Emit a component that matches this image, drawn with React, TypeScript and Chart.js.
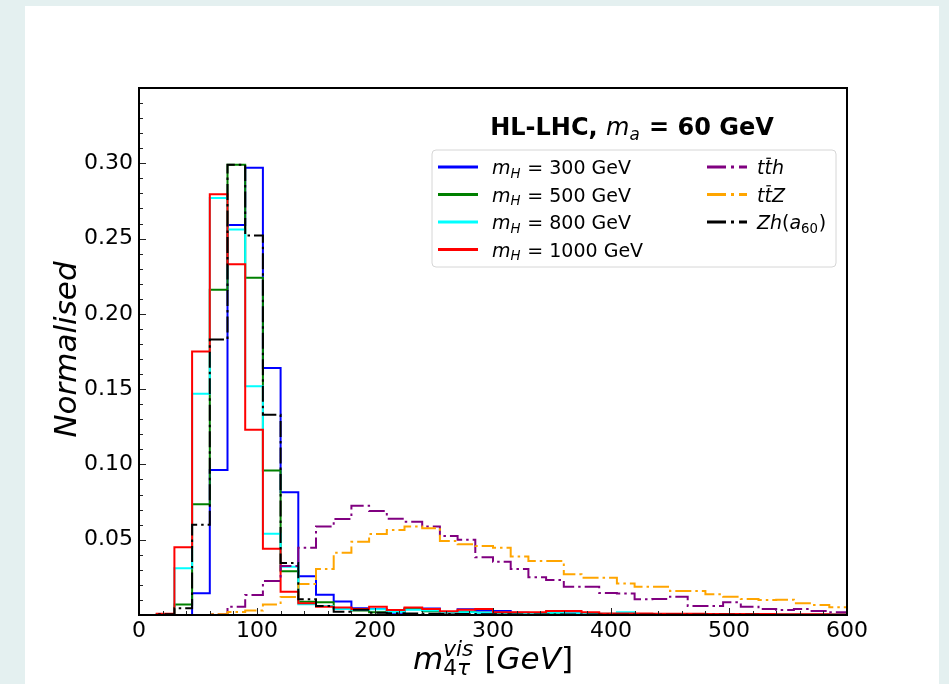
import React, { useEffect, useRef } from 'react';
import { Chart, registerables } from 'chart.js';

Chart.register(...registerables);

// 40 bins of 15 GeV in the visible 4-tau mass
const binEdges = [
  0, 15, 30, 45, 60, 75, 90, 105, 120, 135, 150, 165, 180, 195, 210, 225, 240, 255, 270, 285,
  300, 315, 330, 345, 360, 375, 390, 405, 420, 435, 450, 465, 480, 495, 510, 525, 540, 555, 570,
  585, 600,
];

// Normalised bin contents, signal samples (m_a = 60 GeV)
const mH300 = [
  0, 0, 0, 0.0144, 0.0963, 0.259, 0.297, 0.164, 0.0815, 0.0257,
  0.0135, 0.009, 0.0045, 0.004, 0.0015, 0.0043, 0.0043, 0.0017, 0.0038, 0.003,
  0.0027, 0.0015, 0.0012, 0.0012, 0.001, 0.0008, 0.0007, 0.0006, 0.0005, 0.0005,
  0.0004, 0.0004, 0.0003, 0.0003, 0.0003, 0.0002, 0.0002, 0.0002, 0.0001, 0.0001,
];
const mH500 = [
  0, 0.0003, 0.007, 0.0735, 0.216, 0.299, 0.224, 0.096, 0.029, 0.0088,
  0.0085, 0.0045, 0.003, 0.0018, 0.002, 0.0042, 0.0025, 0.0016, 0.002, 0.0015,
  0.0012, 0.001, 0.001, 0.0009, 0.0008, 0.0007, 0.0006, 0.0006, 0.0005, 0.0005,
  0.0004, 0.0004, 0.0003, 0.0003, 0.0003, 0.0002, 0.0002, 0.0002, 0.0001, 0.0001,
];
const mH800 = [
  0, 0.0005, 0.031, 0.147, 0.277, 0.256, 0.152, 0.054, 0.032, 0.0071,
  0.006, 0.004, 0.0035, 0.0038, 0.002, 0.0035, 0.003, 0.002, 0.0018, 0.0015,
  0.0015, 0.0012, 0.001, 0.0015, 0.001, 0.0008, 0.0008, 0.0018, 0.0007, 0.0006,
  0.0005, 0.0005, 0.0004, 0.0004, 0.0003, 0.0003, 0.0003, 0.0002, 0.0002, 0.0002,
];
const mH1000 = [
  0, 0.0008, 0.045, 0.175, 0.2795, 0.233, 0.123, 0.044, 0.0155, 0.0078,
  0.0055, 0.0049, 0.004, 0.0055, 0.0033, 0.0049, 0.004, 0.0025, 0.0035, 0.004,
  0.0018, 0.0018, 0.0018, 0.0027, 0.0027, 0.0018, 0.001, 0.001, 0.001, 0.0009,
  0.0008, 0.0008, 0.0007, 0.0007, 0.0006, 0.0006, 0.0005, 0.0005, 0.0005, 0.0004,
];

// Normalised bin contents, backgrounds
const ttbarH = [
  0, 0, 0, 0, 0.0005, 0.0055, 0.0133, 0.0226, 0.0326, 0.0447,
  0.0587, 0.0638, 0.0726, 0.069, 0.064, 0.062, 0.0587, 0.0525, 0.05, 0.0383,
  0.0354, 0.0306, 0.025, 0.0233, 0.0188, 0.0188, 0.0146, 0.0142, 0.0104, 0.0106,
  0.0122, 0.006, 0.006, 0.0084, 0.0055, 0.004, 0.0033, 0.004, 0.0027, 0.0018,
];
const ttbarZ = [
  0, 0, 0, 0, 0.0005, 0.002, 0.003, 0.007, 0.012, 0.0206,
  0.0306, 0.0414, 0.0487, 0.0538, 0.0565, 0.0587, 0.0576, 0.0492, 0.047, 0.0458,
  0.0447, 0.0388, 0.0359, 0.0359, 0.027, 0.0248, 0.0248, 0.021, 0.0188, 0.0188,
  0.016, 0.016, 0.0137, 0.0122, 0.0106, 0.01, 0.0102, 0.0078, 0.0066, 0.0051,
];
const zhA60 = [
  0, 0.0005, 0.0045, 0.06, 0.183, 0.299, 0.252, 0.133, 0.0345, 0.0104,
  0.006, 0.0022, 0.0035, 0.0015, 0.0012, 0.001, 0.0008, 0.0007, 0.0006, 0.0005,
  0.0005, 0.0004, 0.0004, 0.0003, 0.0003, 0.0003, 0.0002, 0.0002, 0.0002, 0.0002,
  0.0001, 0.0001, 0.0001, 0.0001, 0.0001, 0, 0, 0, 0, 0,
];

// Axis ticks
const xTickValues = [0, 100, 200, 300, 400, 500, 600];
const yTickValues = [0.05, 0.1, 0.15, 0.2, 0.25, 0.3];
const yTickLabels = ['0.05', '0.10', '0.15', '0.20', '0.25', '0.30'];

const FAMILY = '"DejaVu Sans", "Liberation Sans", sans-serif';
const DASH_DOT = [16, 4, 2.5, 4];

type Run = { t: string; it?: boolean; b?: boolean; bar?: boolean };
type Script = { sub?: Run[]; sup?: Run[] };
type Piece = Run | Script;

const massLabel = (mass: string): Piece[] => [
  { t: 'm', it: true },
  { sub: [{ t: 'H', it: true }] },
  { t: ` = ${mass} GeV` },
];

const series = [
  { name: 'mH300', values: mH300, color: '#0000ff', dashed: false, legend: massLabel('300') },
  { name: 'mH500', values: mH500, color: '#008000', dashed: false, legend: massLabel('500') },
  { name: 'mH800', values: mH800, color: '#00ffff', dashed: false, legend: massLabel('800') },
  { name: 'mH1000', values: mH1000, color: '#ff0000', dashed: false, legend: massLabel('1000') },
  {
    name: 'ttbarH', values: ttbarH, color: '#800080', dashed: true,
    legend: [{ t: 't', it: true }, { t: 't', it: true, bar: true }, { t: 'h', it: true }] as Piece[],
  },
  {
    name: 'ttbarZ', values: ttbarZ, color: '#ffa500', dashed: true,
    legend: [{ t: 't', it: true }, { t: 't', it: true, bar: true }, { t: 'Z', it: true }] as Piece[],
  },
  {
    name: 'zhA60', values: zhA60, color: '#000000', dashed: true,
    legend: [{ t: 'Zh', it: true }, { t: '(' }, { t: 'a', it: true }, { sub: [{ t: '60' }] }, { t: ')' }] as Piece[],
  },
];

const titlePieces: Piece[] = [
  { t: 'HL-LHC, ', b: true },
  { t: 'm', it: true },
  { sub: [{ t: 'a', it: true }] },
  { t: ' = 60 GeV', b: true },
];
const xLabelPieces: Piece[] = [
  { t: 'm', it: true },
  { sub: [{ t: '4' }, { t: 'τ', it: true }], sup: [{ t: 'vis', it: true }] },
  { t: ' [' },
  { t: 'GeV', it: true },
  { t: ']' },
];
const yLabelPieces: Piece[] = [{ t: 'Normalised', it: true }];

const fontStr = (size: number, it?: boolean, b?: boolean) =>
  `${it ? 'italic ' : ''}${b ? 'bold ' : ''}${size}px ${FAMILY}`;

function runsWidth(ctx: CanvasRenderingContext2D, runs: Run[], size: number) {
  let w = 0;
  for (const r of runs) {
    ctx.font = fontStr(size, r.it, r.b);
    w += ctx.measureText(r.t).width;
  }
  return w;
}

function pieceWidth(ctx: CanvasRenderingContext2D, p: Piece, size: number) {
  if ('t' in p) return runsWidth(ctx, [p as Run], size);
  const s = size * 0.7;
  const sc = p as Script;
  return Math.max(sc.sub ? runsWidth(ctx, sc.sub, s) : 0, sc.sup ? runsWidth(ctx, sc.sup, s) : 0) + size * 0.04;
}

function drawRuns(ctx: CanvasRenderingContext2D, runs: Run[], x: number, y: number, size: number) {
  for (const r of runs) {
    ctx.font = fontStr(size, r.it, r.b);
    const w = ctx.measureText(r.t).width;
    ctx.fillText(r.t, x, y);
    if (r.bar) ctx.fillRect(x + w * 0.25, y - size * 0.86, w * 0.62, Math.max(1, size * 0.065));
    x += w;
  }
  return x;
}

function drawRich(
  ctx: CanvasRenderingContext2D, pieces: Piece[], x: number, y: number, size: number,
  align: 'left' | 'center',
) {
  const total = pieces.reduce((a, p) => a + pieceWidth(ctx, p, size), 0);
  let cx = align === 'center' ? x - total / 2 : x;
  ctx.textAlign = 'left';
  ctx.textBaseline = 'alphabetic';
  for (const p of pieces) {
    if ('t' in p) {
      cx = drawRuns(ctx, [p as Run], cx, y, size);
    } else {
      const sc = p as Script;
      const s = size * 0.7;
      if (sc.sub) drawRuns(ctx, sc.sub, cx, y + size * 0.2, s);
      if (sc.sup) drawRuns(ctx, sc.sup, cx, y - size * 0.42, s);
      cx += pieceWidth(ctx, p, size);
    }
  }
}

// Page background and white figure panel
const panelBackground = {
  id: 'panelBackground',
  beforeDraw(chart: Chart) {
    const { ctx, width, height } = chart;
    ctx.save();
    ctx.fillStyle = '#e4f0f0';
    ctx.fillRect(0, 0, width, height);
    ctx.fillStyle = '#ffffff';
    ctx.fillRect(25, 6, 914, height - 6);
    ctx.restore();
  },
};

// Inward major/minor ticks and the axes frame
const axesFrame = {
  id: 'axesFrame',
  afterDatasetsDraw(chart: Chart) {
    const { ctx, chartArea: a } = chart;
    const x = chart.scales.x;
    const y = chart.scales.y;
    ctx.save();
    ctx.strokeStyle = '#222';
    ctx.lineWidth = 1;
    ctx.beginPath();
    for (let k = 0; k <= 30; k++) {
      const px = Math.round(x.getPixelForValue(k * 20)) + 0.5;
      const len = k % 5 === 0 ? 7 : 4;
      ctx.moveTo(px, a.bottom);
      ctx.lineTo(px, a.bottom - len);
    }
    for (let k = 0; k <= 35; k++) {
      const py = Math.round(y.getPixelForValue(k / 100)) + 0.5;
      const len = k % 5 === 0 ? 7 : 4;
      ctx.moveTo(a.left, py);
      ctx.lineTo(a.left + len, py);
    }
    ctx.stroke();
    ctx.strokeStyle = '#000';
    ctx.lineWidth = 2;
    ctx.strokeRect(a.left, a.top, a.right - a.left, a.bottom - a.top);
    ctx.restore();
  },
};

// Title, two-column legend and axis titles
const annotations = {
  id: 'annotations',
  afterDraw(chart: Chart) {
    const { ctx, chartArea: a } = chart;
    ctx.save();
    ctx.fillStyle = '#000';
    drawRich(ctx, titlePieces, 632, 135, 24, 'center');

    // legend frame
    const lx = 432, ly = 150, lw = 404, lh = 117, r = 4;
    ctx.beginPath();
    ctx.moveTo(lx + r, ly);
    ctx.arcTo(lx + lw, ly, lx + lw, ly + lh, r);
    ctx.arcTo(lx + lw, ly + lh, lx, ly + lh, r);
    ctx.arcTo(lx, ly + lh, lx, ly, r);
    ctx.arcTo(lx, ly, lx + lw, ly, r);
    ctx.closePath();
    ctx.fillStyle = 'rgba(255,255,255,0.8)';
    ctx.fill();
    ctx.strokeStyle = '#d6d6d6';
    ctx.lineWidth = 1;
    ctx.stroke();

    const rowY = [167, 194.5, 222, 249.5];
    series.forEach((s, i) => {
      const col = i < 4 ? 0 : 1;
      const row = i < 4 ? i : i - 4;
      const hx = col === 0 ? 438 : 707;
      const tx = col === 0 ? 492 : 757;
      const yy = rowY[row];
      ctx.save();
      ctx.strokeStyle = s.color;
      ctx.lineWidth = 3;
      ctx.setLineDash(s.dashed ? [19, 5, 3, 5] : []);
      ctx.beginPath();
      ctx.moveTo(hx, yy);
      ctx.lineTo(hx + 40, yy);
      ctx.stroke();
      ctx.restore();
      ctx.fillStyle = '#000';
      drawRich(ctx, s.legend, tx, yy + 7, 19, 'left');
    });

    // axis titles
    drawRich(ctx, xLabelPieces, (a.left + a.right) / 2, 669, 31, 'center');
    ctx.save();
    ctx.translate(76, (a.top + a.bottom) / 2 - 2);
    ctx.rotate(-Math.PI / 2);
    drawRich(ctx, yLabelPieces, 0, 0, 31, 'center');
    ctx.restore();
    ctx.restore();
  },
};

function histogramPoints(values: number[]) {
  const pts = [{ x: binEdges[0], y: 0 }];
  values.forEach((v, i) => pts.push({ x: binEdges[i], y: v }));
  const last = binEdges[binEdges.length - 1];
  pts.push({ x: last, y: values[values.length - 1] });
  pts.push({ x: last, y: 0 });
  return pts;
}

export default function App() {
  const ref = useRef<HTMLCanvasElement>(null);

  useEffect(() => {
    const canvas = ref.current;
    if (!canvas) return;
    const tickFont = { family: FAMILY, size: 22 };
    const chart = new Chart(canvas, {
      type: 'line',
      data: {
        datasets: series.map((s, i) => ({
          label: s.name,
          data: histogramPoints(s.values),
          borderColor: s.color,
          backgroundColor: s.color,
          borderWidth: 2,
          borderDash: s.dashed ? DASH_DOT : [],
          stepped: 'before' as const,
          pointRadius: 0,
          fill: false,
          tension: 0,
          order: -i,
        })),
      },
      options: {
        responsive: false,
        animation: false,
        events: [],
        layout: { padding: { left: 0, top: 88, right: 102, bottom: 0 } },
        plugins: { legend: { display: false }, tooltip: { enabled: false }, title: { display: false } },
        scales: {
          x: {
            type: 'linear',
            min: 0,
            max: 600,
            grid: { display: false, drawTicks: false },
            border: { display: false },
            afterBuildTicks: (scale: any) => {
              scale.ticks = xTickValues.map((v) => ({ value: v }));
            },
            ticks: {
              autoSkip: false,
              maxRotation: 0,
              padding: 3,
              color: '#000',
              font: tickFont,
              callback: (v: any) => String(v),
            },
            afterFit: (scale: any) => {
              scale.height = 69;
            },
          },
          y: {
            type: 'linear',
            min: 0,
            max: 0.35,
            grid: { display: false, drawTicks: false },
            border: { display: false },
            afterBuildTicks: (scale: any) => {
              scale.ticks = yTickValues.map((v) => ({ value: v }));
            },
            ticks: {
              autoSkip: false,
              padding: 6,
              color: '#000',
              font: tickFont,
              callback: (v: any) => {
                const idx = yTickValues.findIndex((t) => Math.abs(t - Number(v)) < 1e-9);
                return idx >= 0 ? yTickLabels[idx] : '';
              },
            },
            afterFit: (scale: any) => {
              scale.width = 139;
            },
          },
        },
      },
      plugins: [panelBackground, axesFrame, annotations],
    });
    return () => chart.destroy();
  }, []);

  return (
    <div style={{ position: 'fixed', left: 0, top: 0, width: 949, height: 684 }}>
      <canvas ref={ref} width={949} height={684} style={{ display: 'block', width: 949, height: 684 }} />
    </div>
  );
}
